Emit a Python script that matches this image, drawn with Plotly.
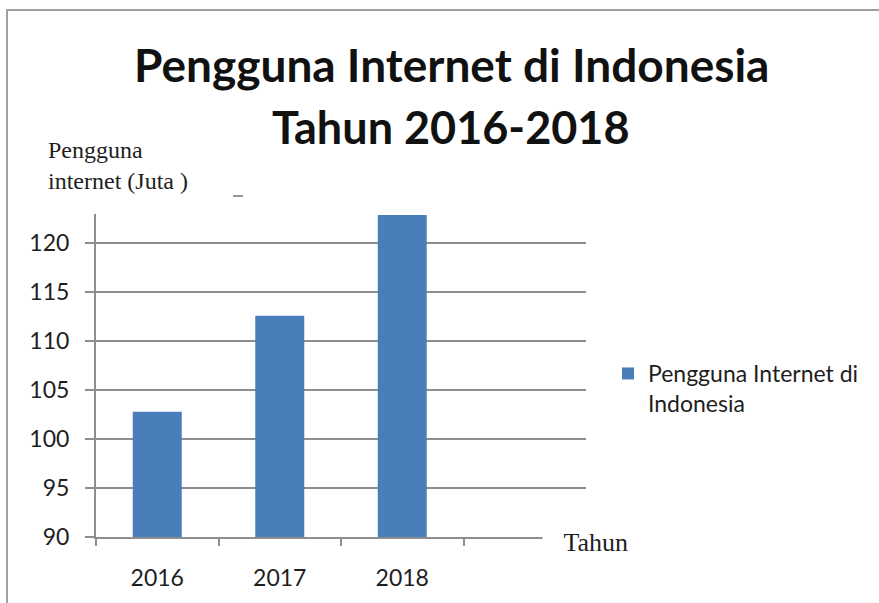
import plotly.graph_objects as go

categories = ["2016", "2017", "2018"]
values = [102.8, 112.6, 122.9]
y_ticks = [90, 95, 100, 105, 110, 115, 120]
series_name = "Pengguna Internet di Indonesia"

W, H = 879, 603
L, R, T, B = 96, 293, 214, 66
PW = W - L - R
PH = H - T - B


def px_x(px):
    return (px - L) / PW


def px_y(py):
    return (H - B - py) / PH


GRID = "#8e8e8e"
TXT = "#1e1e1e"

fig = go.Figure()
fig.add_trace(go.Bar(
    x=categories, y=values, name="Pengguna Internet di<br>Indonesia",
    marker=dict(color="#4a7ebb", line=dict(width=0)),
    width=0.4, showlegend=True,
))

fig.update_layout(
    width=W, height=H,
    margin=dict(l=L, r=R, t=T, b=B, pad=0),
    paper_bgcolor="white", plot_bgcolor="white",
    showlegend=True,
    legend=dict(
        x=px_x(608), y=px_y(352), xanchor="left", yanchor="top",
        xref="paper", yref="paper", valign="top",
        font=dict(family="Lato", size=23, color=TXT),
        bgcolor="rgba(0,0,0,0)", itemwidth=30,
    ),
    xaxis=dict(
        type="category", categoryarray=categories, range=[-0.5, 3.5],
        tickson="boundaries", ticks="outside", ticklen=7, tickwidth=2,
        tickcolor=GRID, showline=True, linecolor=GRID, linewidth=2,
        showgrid=False, tickfont=dict(family="Lato", size=23, color=TXT),
        ticklabelstandoff=19,
    ),
    yaxis=dict(
        range=[90, 123], tickvals=y_ticks, ticks="outside", ticklen=9,
        tickwidth=2, tickcolor=GRID, showline=True, linecolor=GRID,
        linewidth=2, showgrid=True, gridcolor=GRID, gridwidth=2,
        zeroline=False, tickfont=dict(family="Lato", size=23, color=TXT),
        ticklabelstandoff=11,
    ),
    annotations=[
        dict(text="<b>Pengguna Internet di Indonesia</b>", xref="paper",
             yref="paper", x=px_x(451), y=px_y(64), xanchor="center",
             yanchor="middle", showarrow=False,
             font=dict(family="Lato", size=46, color="#111111")),
        dict(text="<b>Tahun 2016-2018</b>", xref="paper", yref="paper",
             x=px_x(451), y=px_y(127), xanchor="center", yanchor="middle",
             showarrow=False,
             font=dict(family="Lato", size=45, color="#111111")),
        dict(text="Pengguna<br>internet (Juta )", xref="paper", yref="paper",
             x=px_x(46), y=px_y(135), xanchor="left", yanchor="top",
             align="left", showarrow=False,
             font=dict(family="Liberation Serif", size=24, color=TXT)),
        dict(text="&nbsp;&nbsp;&nbsp;Tahun", xref="paper", yref="paper",
             x=px_x(542), y=px_y(542), xanchor="left", yanchor="middle",
             showarrow=False, bgcolor="white",
             font=dict(family="Liberation Serif", size=26, color=TXT)),
    ],
    shapes=[
        dict(type="rect", xref="paper", yref="paper",
             x0=px_x(7), x1=px_x(900), y0=px_y(620), y1=px_y(10),
             line=dict(color="#a0a0a0", width=2), fillcolor="rgba(0,0,0,0)",
             layer="below"),
        dict(type="line", xref="paper", yref="paper",
             x0=px_x(233), x1=px_x(243), y0=px_y(196), y1=px_y(196),
             line=dict(color="#9a9a9a", width=2)),
    ],
)

fig.write_html("out.html")
